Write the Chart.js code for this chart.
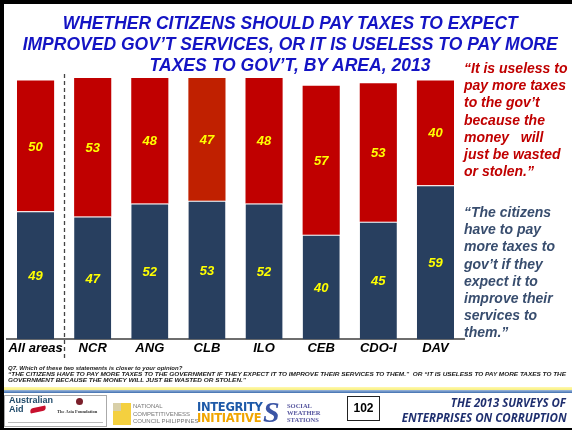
<!DOCTYPE html>
<html><head><meta charset="utf-8">
<script src="https://cdn.jsdelivr.net/npm/chart.js@4/dist/chart.umd.min.js"></script>
<style>
html,body{margin:0;padding:0;background:#fff;}
#slide{position:relative;width:572px;height:430px;overflow:hidden;background:#fff;font-family:"Liberation Sans",Arial,sans-serif;}
#c{position:absolute;left:0;top:0;}
.abs{position:absolute;white-space:nowrap;}
.fit{display:inline-block;white-space:nowrap;}
#title div{position:absolute;left:-210px;width:1000px;text-align:center;white-space:nowrap;font-weight:bold;font-style:italic;font-size:19px;color:#1414C4;line-height:21px;}
.quote{position:absolute;left:464px;white-space:nowrap;font-weight:bold;font-style:italic;font-size:14px;line-height:17.2px;}
.foot{position:absolute;left:8px;white-space:nowrap;font-weight:bold;font-style:italic;font-size:6px;line-height:6px;color:#1a1a1a;}
#bt{position:absolute;left:0;top:0;width:572px;height:4px;background:#000;}
#bl{position:absolute;left:0;top:0;width:4px;height:430px;background:#000;}
#bb{position:absolute;left:0;top:428px;width:572px;height:2px;background:#000;}
#band{position:absolute;left:4px;top:387px;width:568px;height:3px;background:linear-gradient(#fff8b0,#f8f080);}
#band2{position:absolute;left:4px;top:390px;width:568px;height:3px;background:linear-gradient(#9fb9dc,#3f6fb0);}
</style></head>
<body><div id="slide">
<canvas id="c" width="572" height="430"></canvas>
<div id="bt"></div><div id="bl"></div><div id="bb"></div>
<div id="title">
 <div style="top:12px"><span class="fit" data-w="455">WHETHER CITIZENS SHOULD PAY TAXES TO EXPECT</span></div>
 <div style="top:33px"><span class="fit" data-w="535">IMPROVED GOV’T SERVICES, OR IT IS USELESS TO PAY MORE</span></div>
 <div style="top:54px"><span class="fit" data-w="281">TAXES TO GOV’T, BY AREA, 2013</span></div>
</div>
<div class="quote" id="q1" style="top:60px;color:#C00000"></div>
<div class="quote" id="q2" style="top:204px;color:#384D6E"></div>
<div class="foot" style="top:365px">Q7. Which of these two statements is closer to your opinion?</div>
<div class="foot" style="top:371px"><span class="fit" data-w="558">“THE CITIZENS HAVE TO PAY MORE TAXES TO THE GOVERNMENT IF THEY EXPECT IT TO IMPROVE THEIR SERVICES TO THEM.”&nbsp; OR “IT IS USELESS TO PAY MORE TAXES TO THE</span></div>
<div class="foot" style="top:376.5px"><span class="fit" data-w="238">GOVERNMENT BECAUSE THE MONEY WILL JUST BE WASTED OR STOLEN.”</span></div>
<div id="band"></div><div id="band2"></div>
<!-- footer logos -->
<div class="abs" style="left:4px;top:395px;width:103px;height:32px;border:1px solid #aaa;box-sizing:border-box;"></div>
<div class="abs" style="left:9px;top:396px;font:bold 9px 'Liberation Sans',Arial;color:#1f4a6a;line-height:8.5px;">Australian<br>Aid</div>
<div class="abs" style="left:30px;top:407px;width:16px;height:5px;background:#c8102e;border-radius:6px 2px 6px 2px;transform:rotate(-12deg);"></div>
<div class="abs" style="left:76px;top:398px;width:7px;height:7px;border-radius:50%;background:#7a1f2a;"></div>
<div class="abs" style="left:57px;top:409px;font:bold 4.5px 'Liberation Serif',serif;color:#333;">The Asia Foundation</div>
<div class="abs" style="left:8px;top:422px;width:95px;height:1px;background:#bbb;"></div>
<div class="abs" style="left:113px;top:403px;width:18px;height:22px;background:linear-gradient(90deg,#f4d03f 33%,#fff 33%,#fff 36%,#f4d03f 36%,#f4d03f 66%,#fff 66%,#fff 69%,#f4d03f 69%);"></div>
<div class="abs" style="left:113px;top:403px;width:8px;height:8px;background:#d8cfa8;"></div>
<div class="abs" style="left:133px;top:403px;font:6px 'Liberation Sans Narrow','Liberation Sans',Arial;color:#777;line-height:7.5px;">NATIONAL<br>COMPETITIVENESS<br>COUNCIL PHILIPPINES</div>
<div class="abs" style="left:197px;top:402px;font:bold 11.5px 'DejaVu Sans',sans-serif;color:#1e5aa8;line-height:11px;letter-spacing:-0.3px;">INTEGRITY</div>
<div class="abs" style="left:197px;top:413px;font:bold 11.5px 'DejaVu Sans',sans-serif;color:#f0a500;line-height:11px;letter-spacing:-0.3px;">INITIATIVE</div>
<div class="abs" style="left:263px;top:398px;font:italic bold 30px 'Liberation Serif',serif;color:#3b55a5;line-height:28px;">S</div>
<div class="abs" style="left:287px;top:402px;font:bold 6.5px 'Liberation Serif',serif;color:#55559e;line-height:7px;">SOCIAL<br>WEATHER<br>STATIONS</div>
<div class="abs" style="left:347px;top:396px;width:33px;height:25px;border:1.5px solid #222;box-sizing:border-box;text-align:center;font:bold 12px 'Liberation Sans',Arial;line-height:22px;color:#000;">102</div>
<div class="abs" style="left:402px;top:395px;width:164px;text-align:right;font:italic bold 11.5px 'Open Sans','Liberation Sans',sans-serif;color:#1f2f6f;line-height:15px;"><span class="fit" data-w="115">THE 2013 SURVEYS OF</span><br><span class="fit" data-w="165">ENTERPRISES ON CORRUPTION</span></div>
</div>
<script>
// ---- data ----
const categories = ['All areas', 'NCR', 'ANG', 'CLB', 'ILO', 'CEB', 'CDO-I', 'DAV'];
const haveToPay = [49, 47, 52, 53, 52, 40, 45, 59];
const uselessToPay = [50, 53, 48, 47, 48, 57, 53, 40];
const uselessQuote = ['“It is useless to', 'pay more taxes', 'to the gov’t', 'because the', 'money   will', 'just be wasted', 'or stolen.”'];
const haveQuote = ['“The citizens', 'have to pay', 'more taxes to', 'gov’t if they', 'expect it to', 'improve their', 'services to', 'them.”'];

// ---- styles ----
const BLUE = '#283F5F';
const RED = '#C00000';
const RED_CLB = '#C02000';
const redColors = categories.map(c => c === 'CLB' ? RED_CLB : RED);

document.getElementById('q1').innerHTML = uselessQuote.map(s => s.replace(/ {2,}/g, m => '&nbsp;'.repeat(m.length))).join('<br>');
document.getElementById('q2').innerHTML = haveQuote.join('<br>');

// fit text spans to measured widths
document.querySelectorAll('.fit').forEach(el => {
  const w = el.getBoundingClientRect().width;
  const t = parseFloat(el.dataset.w);
  el.style.transform = 'scaleX(' + (t / w) + ')';
  const align = getComputedStyle(el.parentElement).textAlign;
  el.style.transformOrigin = align === 'center' ? 'center' : (align === 'right' ? 'right' : 'left');
});

const valueLabels = {
  id: 'valueLabels',
  afterDatasetsDraw(chart) {
    const ctx = chart.ctx;
    ctx.save();
    ctx.font = 'italic bold 13px "Liberation Sans", Arial';
    ctx.fillStyle = '#FFFF00';
    ctx.textAlign = 'center';
    ctx.textBaseline = 'middle';
    chart.data.datasets.forEach((ds, i) => {
      chart.getDatasetMeta(i).data.forEach((el, j) => {
        ctx.fillText(String(ds.data[j]), el.x, (el.y + el.base) / 2 + 1);
      });
    });
    ctx.restore();
  }
};
const divider = {
  id: 'divider',
  afterDraw(chart) {
    const xs = chart.scales.x;
    const x = Math.round((xs.getPixelForValue(0) + xs.getPixelForValue(1)) / 2) + 0.5;
    const ctx = chart.ctx;
    ctx.save();
    ctx.strokeStyle = '#444';
    ctx.lineWidth = 1.3;
    ctx.setLineDash([4, 3]);
    ctx.beginPath();
    ctx.moveTo(x, 74);
    ctx.lineTo(x, 359);
    ctx.stroke();
    ctx.restore();
  }
};

new Chart(document.getElementById('c'), {
  type: 'bar',
  data: {
    labels: categories,
    datasets: [
      { label: 'have to pay', data: haveToPay, backgroundColor: BLUE, borderColor: '#ffffff', borderWidth: { top: 1, left: 0, right: 0, bottom: 0 }, borderSkipped: false },
      { label: 'useless', data: uselessToPay, backgroundColor: redColors, borderWidth: 0 }
    ]
  },
  options: {
    responsive: false,
    animation: false,
    devicePixelRatio: 1,
    layout: { padding: { left: 7, right: 108, top: 78, bottom: 73 } },
    plugins: { legend: { display: false }, tooltip: { enabled: false }, title: { display: false } },
    datasets: { bar: { categoryPercentage: 1, barPercentage: 0.65 } },
    scales: {
      x: {
        stacked: true,
        grid: { display: false, drawTicks: false, tickLength: 0 },
        border: { display: true, color: '#6e6e6e', width: 2 },
        ticks: { color: '#000', font: { family: '"Liberation Sans", Arial', size: 13, style: 'italic', weight: 'bold' }, padding: 1, maxRotation: 0, autoSkip: false }
      },
      y: { stacked: true, display: false, min: 0, max: 100 }
    }
  },
  plugins: [valueLabels, divider]
});
</script>
</body></html>
